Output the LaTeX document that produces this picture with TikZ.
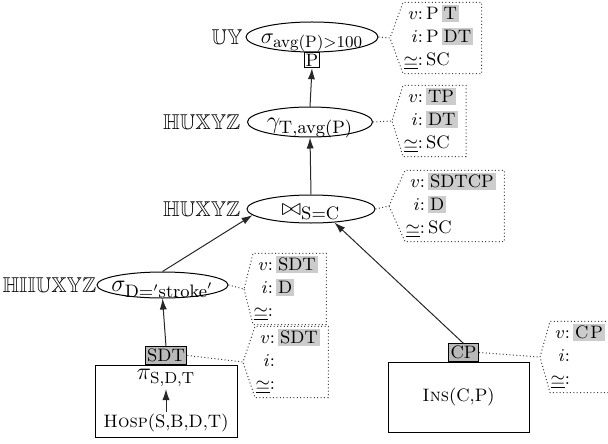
\documentclass[tikz,border=0pt]{standalone}
\usepackage{amssymb}
\usepackage{graphicx}
\usetikzlibrary{arrows.meta,shapes.geometric}
\newcommand\optxt[1]{\smash{\makebox[0pt]{\raisebox{-0.55ex}{#1}}}}
\newcommand\hlx[1]{{\setlength\fboxsep{1pt}\colorbox{gray!40}{#1}}}
\newcommand\annrows[3]{\renewcommand\arraystretch{1}\begin{tabular}{@{}r@{\,}l@{\hspace{4pt}}}$v$:&#1\\$i$:&#2\\$\underline{\simeq}$:&#3\end{tabular}}
\begin{document}
\begin{tikzpicture}[x=0.5pt,y=-0.5pt,line width=0.5pt,
  op/.style={ellipse,draw,inner sep=0pt,font=\fontsize{13}{15.5}\selectfont},
  lbl/.style={anchor=east,inner sep=0pt,font=\fontsize{10.7}{13}\selectfont},
  tagbox/.style={draw,fill=white,inner sep=0.6pt,font=\fontsize{9}{11}\selectfont},
  gtag/.style={draw,fill=gray!55,inner sep=1pt,font=\fontsize{9}{11}\selectfont},
  relbox/.style={draw,inner sep=0pt,font=\fontsize{9}{11}\selectfont},
  ann/.style={anchor=west,inner xsep=0pt,inner ysep=0.3pt,font=\fontsize{9}{11.5}\selectfont},
  arr/.style={-{Latex[length=5.5pt,width=3.6pt]},draw=black!85},
  dotl/.style={draw=black!75,dash pattern=on 0.5pt off 1.2pt}]
\useasboundingbox (0,0) rectangle (608,443);

% operator ellipses
\node[op,minimum width=66pt,minimum height=15pt] (e1) at (312,37) {\optxt{\scalebox{0.92}{$\sigma_{\mathrm{avg(P)>100}}$}}};
\node[op,minimum width=62.5pt,minimum height=15pt] (e2) at (310,122) {\optxt{$\gamma_{\mathrm{T,avg(P)}}$}};
\node[op,minimum width=64pt,minimum height=14pt] (e3) at (311,209) {\optxt{$\bowtie_{\mathrm{S=C}}$}};
\node[op,minimum width=65.5pt,minimum height=13pt] (e4) at (162.5,285) {\optxt{$\sigma_{\mathrm{D}='\mathrm{stroke}'}$}};

% left labels
\node[lbl] (l1) at (243,37) {$\mathbb{UY}$};
\node[lbl] (l2) at (241,122) {$\mathbb{HUXYZ}$};
\node[lbl] (l3) at (241,209) {$\mathbb{HUXYZ}$};
\node[lbl] (l4) at (97,285) {$\mathbb{HIIUXYZ}$};

% tag under the top ellipse
\node[tagbox,anchor=north] (pt) at (e1.south) {P};

% relation boxes
\node[relbox,minimum width=71pt,minimum height=36pt] (hosp) at (166,401) {};
\node[inner sep=1pt,font=\large] (pi) at (166,378) {$\pi_{\mathrm{S,D,T}}$};
\node[inner sep=1pt,font=\fontsize{9}{11}\selectfont] (hr) at (166,423) {\textsc{Hosp}(S,B,D,T)};
\node[gtag,anchor=south] (sdt) at (hosp.north) {SDT};

\node[relbox,minimum width=70.5pt,minimum height=35pt] (ins) at (458.5,397) {\textsc{Ins}(C,P)};
\node[gtag,anchor=south] (cp) at ([xshift=2.5pt]ins.north) {CP};

% arrows
\draw[arr] (e2.north) -- (pt.south);
\draw[arr] (e3.north) -- (e2.south);
\draw[arr] (e4.north) -- (e3.186);
\draw[arr] (cp.north) -- (e3.330);
\draw[arr] (sdt.north) -- (e4.south);
\draw[arr] (hr.north) -- (pi.south);

% annotations
\node[ann] (a1) at (403,38) {\annrows{P\,\hlx{T}}{P\,\hlx{DT}}{SC}};
\node[ann] (a2) at (403,121) {\annrows{\hlx{TP}}{\hlx{DT}}{SC}};
\node[ann] (a3) at (405,206) {\annrows{\hlx{SDTCP}}{\hlx{D}}{SC}};
\node[ann] (a4) at (253,289) {\annrows{\hlx{SDT}}{\hlx{D}}{}};
\node[ann] (a5) at (255,362) {\annrows{\hlx{SDT}}{}{}};
\node[ann] (a6) at (550,357) {\annrows{\hlx{C\kern1pt P}}{}{}};

\coordinate (p1) at ([xshift=-6.5pt]a1.west);
\coordinate (p2) at ([xshift=-5.5pt]a2.west);
\coordinate (p3) at ([xshift=-8pt]a3.west);
\coordinate (p4) at ([xshift=-4.5pt]a4.west);
\coordinate (p5) at ([xshift=-6pt]a5.west);
\coordinate (p6) at ([xshift=-5pt]a6.west);

\draw[dotl] (e1.east) -- (p1) -- (a1.north west) -- (a1.north east) -- (a1.south east) -- (a1.south west) -- (p1);
\draw[dotl] (e2.east) -- (p2) -- (a2.north west) -- (a2.north east) -- (a2.south east) -- (a2.south west) -- (p2);
\draw[dotl] (e3.east) -- (p3) -- (a3.north west) -- (a3.north east) -- (a3.south east) -- (a3.south west) -- (p3);
\draw[dotl] (e4.east) -- (p4) -- (a4.north west) -- (a4.north east) -- (a4.south east) -- (a4.south west) -- (p4);
\draw[dotl] (sdt.east) -- (p5) -- (a5.north west) -- (a5.north east) -- (a5.south east) -- (a5.south west) -- (p5);
\draw[dotl] (cp.east) -- (p6) -- (a6.north west) -- (a6.north east) -- (a6.south east) -- (a6.south west) -- (p6);
\end{tikzpicture}
\end{document}
